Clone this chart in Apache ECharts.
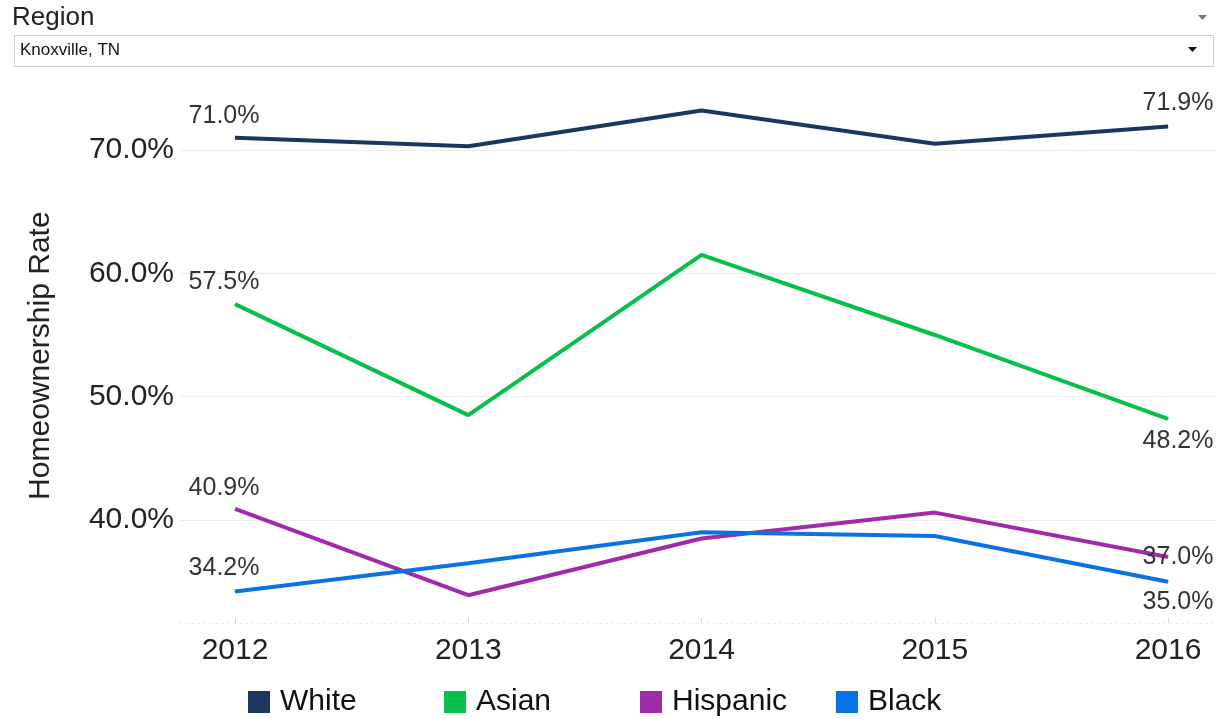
<!DOCTYPE html>
<html>
<head>
<meta charset="utf-8">
<title>Homeownership Rate - Knoxville, TN</title>
<script src="https://cdn.jsdelivr.net/npm/echarts@6/dist/echarts.min.js"></script>
<style>
  html, body { margin: 0; padding: 0; background: #fff; }
  #chart { width: 1220px; height: 719px; }
</style>
</head>
<body>
<div id="chart"></div>
<script>
const years = ['2012', '2013', '2014', '2015', '2016']
const groups = ['White', 'Asian', 'Hispanic', 'Black']
const white = [71.0, 70.3, 73.2, 70.5, 71.9]
const asian = [57.5, 48.5, 61.5, 55.0, 48.2]
const hispanic = [40.9, 33.9, 38.5, 40.6, 37.0]
const black = [34.2, 36.5, 39.0, 38.7, 35.0]
const yTicks = [40, 50, 60, 70]

const font = 'Liberation Sans, Arial, sans-serif'

// where the end labels sit relative to the point: [first, last]
function buildData(values, offsets) {
  return values.map((v, i) => {
    const item = { value: [Number(years[i]), v] }
    if (i === 0 || i === values.length - 1) {
      const off = i === 0 ? offsets[0] : offsets[1]
      item.label = {
        show: true,
        position: 'inside',
        offset: off,
        formatter: (p) => p.value[1].toFixed(1) + '%',
        fontSize: 25,
        color: '#333',
        fontFamily: font
      }
    }
    return item
  })
}

function lineSeries(name, color, values, offsets) {
  return {
    name: name,
    type: 'line',
    data: buildData(values, offsets),
    symbol: 'circle',
    symbolSize: 1,
    showSymbol: true,
    lineStyle: { color: color, width: 4 },
    itemStyle: { color: color },
    emphasis: { disabled: true },
    z: 3
  }
}

// tableau-like legend: fixed column width per entry
const legends = groups.map((g, i) => ({
  data: [g],
  left: 248 + i * 196,
  top: 687,
  padding: 0,
  itemWidth: 22,
  itemHeight: 22,
  icon: 'rect',
  textStyle: { fontSize: 30, color: '#111', fontFamily: font, padding: [0, 0, 0, 5] },
  selectedMode: false
}))

const option = {
  animation: false,
  textStyle: { fontFamily: font },
  graphic: [
    {
      type: 'text',
      left: 12,
      top: 5,
      style: { text: 'Region', fontSize: 26, fill: '#222', fontFamily: font }
    },
    {
      type: 'rect',
      shape: { x: 14.5, y: 35.5, width: 1199, height: 31 },
      style: { fill: '#fff', stroke: '#cfcfcf', lineWidth: 1 }
    },
    {
      type: 'text',
      left: 20,
      top: 42,
      style: { text: 'Knoxville, TN', fontSize: 17, fill: '#111', fontFamily: font }
    },
    {
      type: 'polygon',
      shape: { points: [[1188, 47], [1197, 47], [1192.5, 52]] },
      style: { fill: '#111' }
    },
    {
      type: 'polygon',
      shape: { points: [[1198, 15], [1207, 15], [1202.5, 20]] },
      style: { fill: '#777' }
    }
  ],
  legend: legends,
  grid: {
    left: 180,
    right: 3,
    top: 88.3,
    bottom: 96
  },
  xAxis: {
    type: 'value',
    min: 2011.764,
    max: 2016.21,
    axisLine: { show: true, lineStyle: { color: '#e4e4e4', type: [1, 5], width: 1 } },
    axisTick: {
      show: true,
      customValues: years.map(Number),
      length: 5,
      inside: true,
      lineStyle: { color: '#d4d4d4' }
    },
    axisLabel: {
      customValues: years.map(Number),
      formatter: (v) => String(Math.round(v)),
      fontSize: 30,
      color: '#222',
      margin: 13,
      fontFamily: font
    },
    splitLine: { show: false }
  },
  yAxis: {
    type: 'value',
    min: 31.65,
    max: 75,
    name: 'Homeownership Rate',
    nameLocation: 'middle',
    nameGap: 124,
    nameTextStyle: { fontSize: 30, color: '#222', fontFamily: font },
    axisLine: { show: false },
    axisTick: { show: false, customValues: yTicks },
    axisLabel: {
      customValues: yTicks,
      formatter: (v) => v.toFixed(1) + '%',
      fontSize: 30,
      color: '#222',
      margin: 6,
      fontFamily: font
    },
    splitLine: { show: true, lineStyle: { color: '#ececec', width: 1 } }
  },
  series: [
    lineSeries('White', '#1c365f', white, [[-11, -22], [10, -23]]),
    lineSeries('Asian', '#07c04b', asian, [[-11, -22], [10, 22]]),
    lineSeries('Hispanic', '#a02ba8', hispanic, [[-11, -21], [10, 0]]),
    lineSeries('Black', '#0a73e4', black, [[-11, -23], [10, 20]])
  ]
}

const chart = echarts.init(document.getElementById('chart'))
chart.setOption(option)
window.addEventListener('resize', () => chart.resize())
</script>
</body>
</html>
